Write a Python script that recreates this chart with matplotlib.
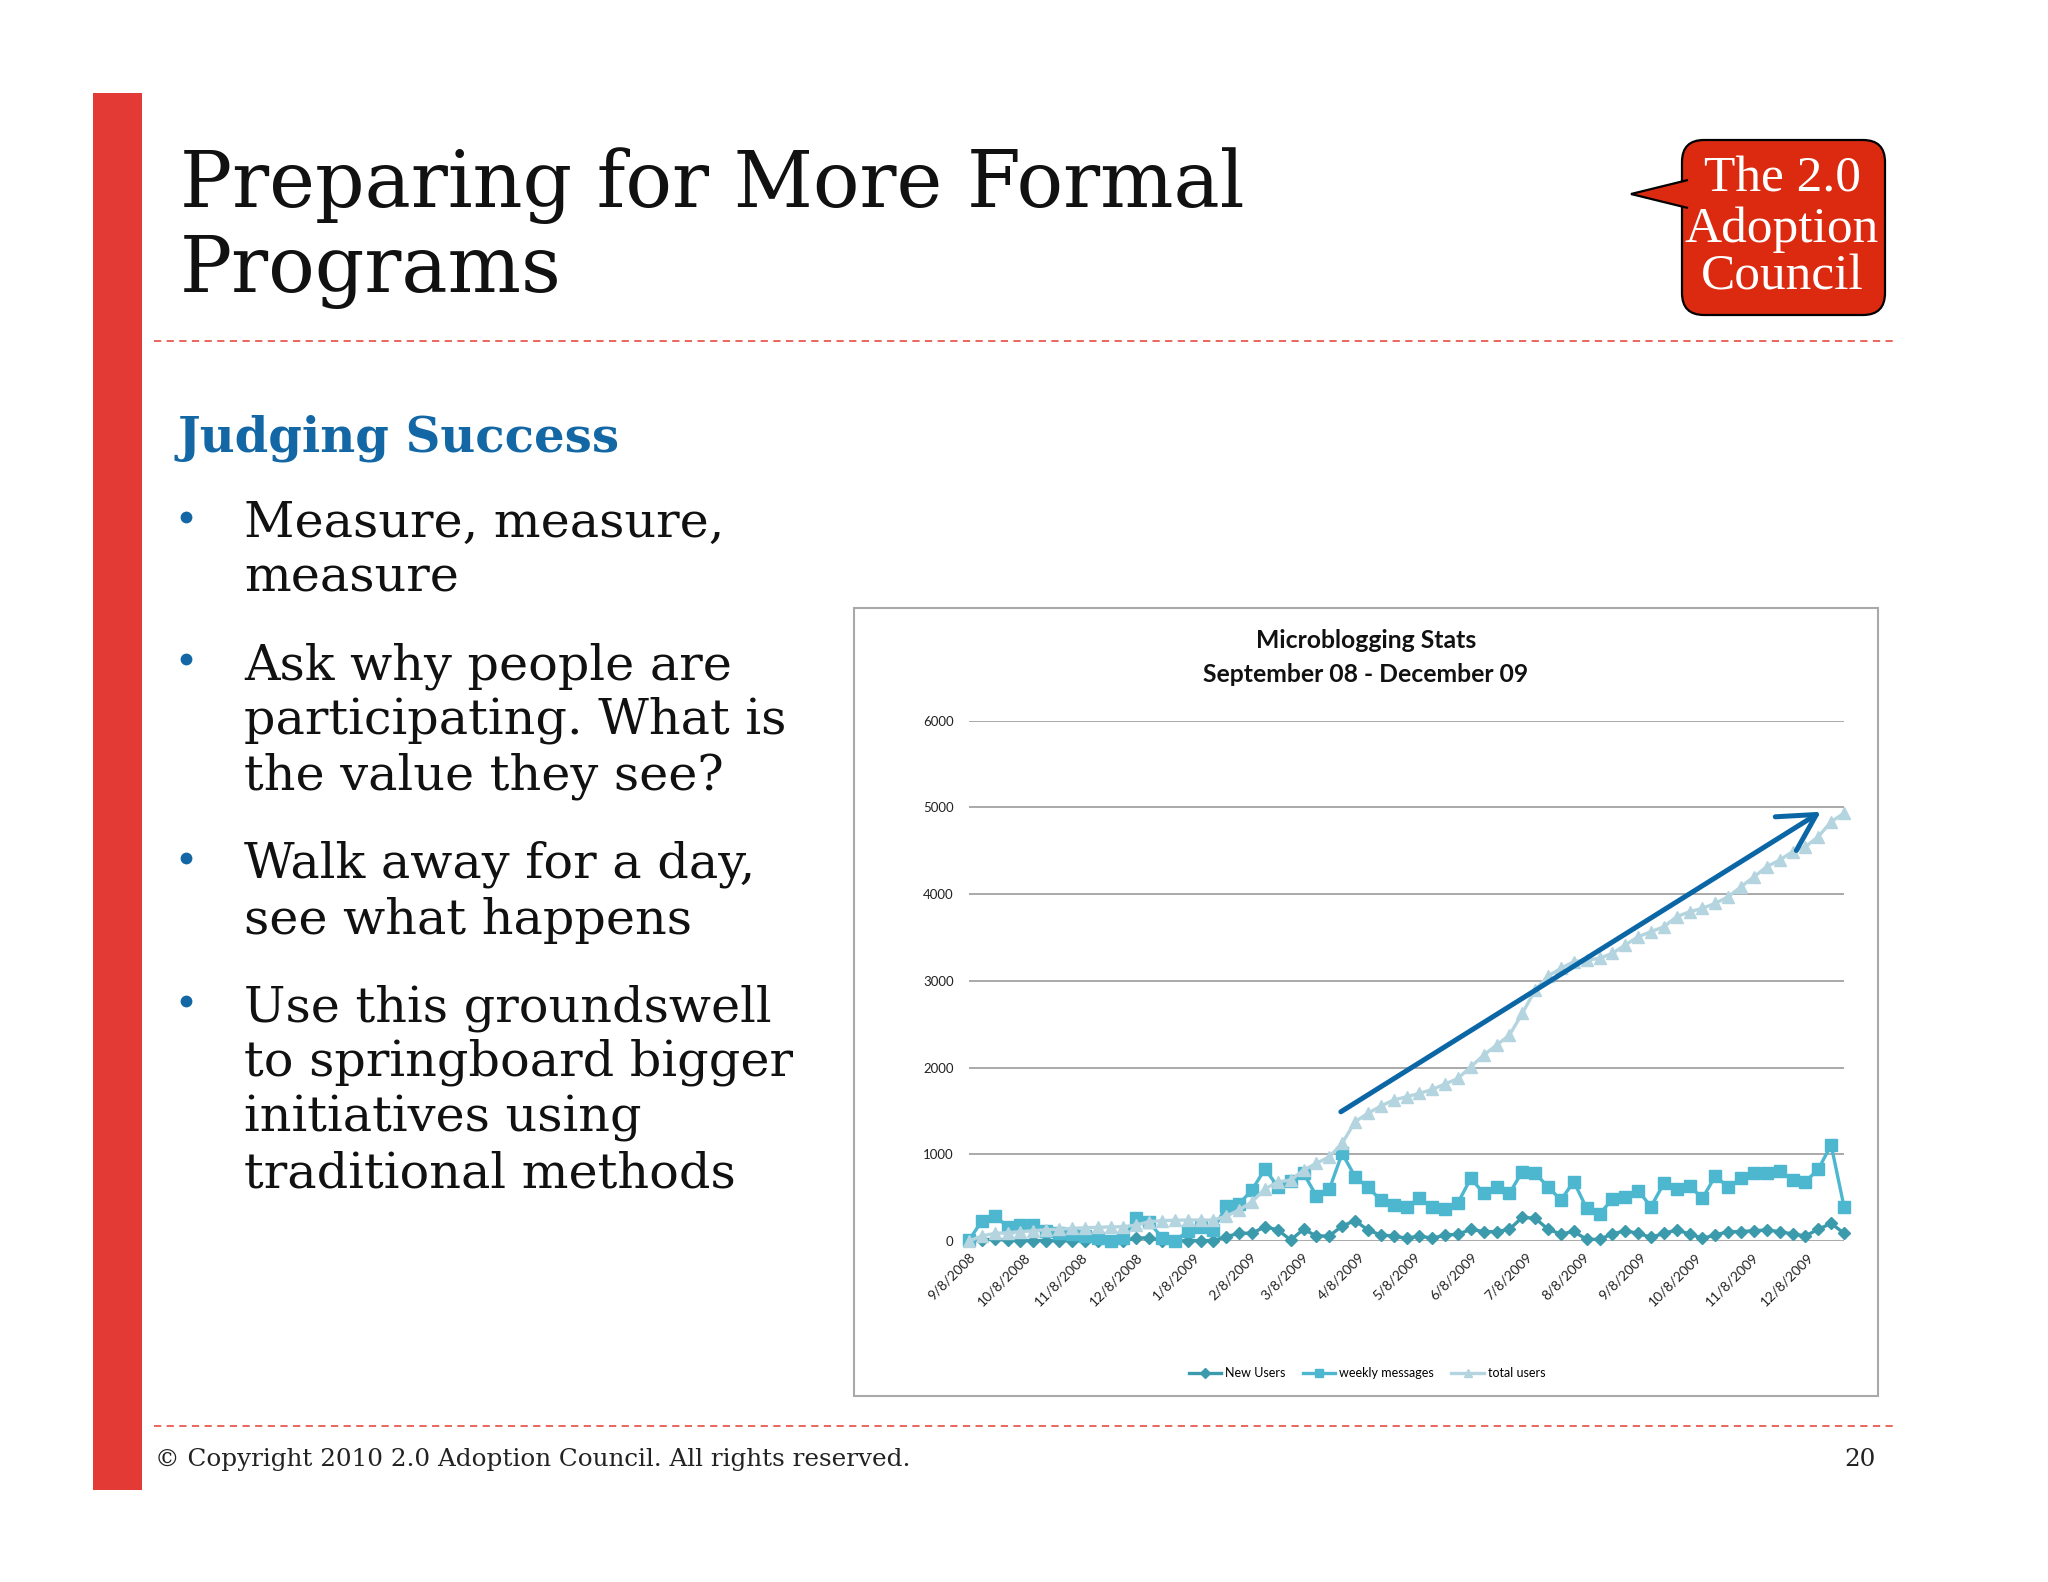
import matplotlib
matplotlib.use('Agg')
import matplotlib.pyplot as plt
import matplotlib.dates as mdates
from matplotlib.patches import Rectangle, FancyBboxPatch, Polygon
import pandas as pd

W, H = 2048, 1582

# ---------------- data ----------------
weeks = pd.date_range('2008-09-08', periods=69, freq='7D')

new_users = [0, 15, 20, 10, 5, 5, 5, 5, 5, 5, 5, 0, 5, 30, 40, 0, 0, 5, 5, 5,
             50, 90, 90, 165, 127, 12, 135, 58, 58, 173, 235, 127, 69, 58, 31,
             58, 31, 69, 77, 135, 108, 108, 135, 273, 262, 135, 80, 110, 19, 19,
             81, 119, 88, 42, 88, 127, 81, 31, 69, 108, 108, 119, 127, 108, 81,
             58, 135, 204, 88]

weekly_messages = [10, 230, 290, 165, 185, 180, 120, 90, 75, 55, 40, 5, 40, 262,
                   215, 40, 5, 110, 160, 130, 405, 430, 590, 830, 627, 690, 780,
                   520, 596, 1011, 742, 619, 473, 415, 396, 492, 388, 365, 442,
                   723, 550, 619, 550, 800, 780, 625, 473, 685, 377, 312, 481,
                   512, 581, 396, 665, 596, 635, 492, 750, 619, 723, 788, 780,
                   811, 704, 685, 827, 1108, 396]

total_users = [0, 58, 88, 96, 108, 119, 130, 135, 146, 152, 158, 162, 165, 185,
               223, 235, 240, 242, 242, 242, 288, 358, 454, 600, 683, 702, 818,
               895, 971, 1126, 1375, 1472, 1556, 1625, 1663, 1702, 1748, 1810,
               1875, 2009, 2144, 2259, 2375, 2625, 2894, 3055, 3144, 3221, 3240,
               3260, 3317, 3413, 3509, 3567, 3624, 3740, 3797, 3836, 3894, 3970,
               4085, 4200, 4316, 4393, 4489, 4547, 4662, 4835, 4932]

tick_labels = ['9/8/2008', '10/8/2008', '11/8/2008', '12/8/2008', '1/8/2009',
               '2/8/2009', '3/8/2009', '4/8/2009', '5/8/2009', '6/8/2009',
               '7/8/2009', '8/8/2009', '9/8/2009', '10/8/2009', '11/8/2009',
               '12/8/2009']
y_ticks = [0, 1000, 2000, 3000, 4000, 5000, 6000]

series_names = ['New Users', 'weekly messages', 'total users']

bullets = [
    ['Measure, measure,', 'measure'],
    ['Ask why people are', 'participating. What is', 'the value they see?'],
    ['Walk away for a day,', 'see what happens'],
    ['Use this groundswell', 'to springboard bigger', 'initiatives using',
     'traditional methods'],
]

# trend arrow (in week index / value units)
arrow_start = (28.9, 1490)
arrow_end = (66.2, 4950)

# ---------------- figure ----------------
fig = plt.figure(figsize=(W / 100, H / 100), dpi=100)
fig.patch.set_facecolor('white')

bg = fig.add_axes([0, 0, 1, 1], zorder=0)
bg.set_xlim(0, W)
bg.set_ylim(H, 0)
bg.axis('off')

RED = '#e43a36'
BLUE = '#1467a5'
SERIF = 'DejaVu Serif'

# red vertical bar
bg.add_patch(Rectangle((93, 93), 49, 1397, color=RED, lw=0))

# dashed separators
for yy in (341, 1426):
    bg.plot([154, 1893], [yy, yy], color='#e85a52', lw=1.3, dashes=(4, 3))

# title
bg.text(180, 207, 'Preparing for More Formal', fontsize=55.8, family=SERIF,
        va='baseline', ha='left', color='#111111')
bg.text(180, 292, 'Programs', fontsize=55.8, family=SERIF,
        va='baseline', ha='left', color='#111111')

# subtitle
bg.text(177, 452, 'Judging Success', fontsize=34.7, family=SERIF,
        fontweight='bold', color=BLUE, va='baseline', ha='left')

# bullet list
baselines = [[537, 592], [679, 734, 789], [878, 934], [1021, 1076, 1132, 1188]]
for lines, bls in zip(bullets, baselines):
    bg.plot([186], [bls[0] - 20], 'o', ms=8.5, color=BLUE, mec='none')
    for ln, bl in zip(lines, bls):
        bg.text(244, bl, ln, fontsize=35.5, family=SERIF, va='baseline',
                ha='left', color='#111111')

# footer
bg.text(155, 1466, '\u00a9 Copyright 2010 2.0 Adoption Council. All rights reserved.',
        fontsize=17.7, family=SERIF, va='baseline', ha='left', color='#222222')
bg.text(1876, 1466, '20', fontsize=17.7, family=SERIF, va='baseline',
        ha='right', color='#222222')

# logo (speech bubble)
LOGO_RED = '#dc2a10'
bg.add_patch(FancyBboxPatch((1682, 140), 203, 175,
                            boxstyle='round,pad=0,rounding_size=22',
                            fc=LOGO_RED, ec='black', lw=1.6, zorder=2))
bg.add_patch(Polygon([(1688, 180), (1631, 194), (1688, 208)], closed=False,
                     fc=LOGO_RED, ec='black', lw=1.6, zorder=3))
for txt, bl in zip(['The 2.0', 'Adoption', 'Council'], [192, 242, 290]):
    bg.text(1782, bl, txt, fontsize=37, family='Liberation Serif',
            color='white', ha='center', va='baseline', zorder=4)

# chart frame
bg.add_patch(Rectangle((854, 608), 1024, 788, fill=False, ec='#a9a9a9', lw=1.5))

# chart titles
CH_FONT = 'Lato'
bg.text(1366, 640, 'Microblogging Stats', fontsize=17.8, family=CH_FONT,
        fontweight='bold', ha='center', va='center', color='#111111')
bg.text(1366, 675, 'September 08 - December 09', fontsize=17.8, family=CH_FONT,
        fontweight='bold', ha='center', va='center', color='#111111')

# ---------------- chart axes ----------------
ax = fig.add_axes([969 / W, 1 - 1241 / H, (1844 - 969) / W, (1241 - 720.7) / H],
                  zorder=2)
ax.patch.set_alpha(0)

C_NEW = '#3b9bad'
C_MSG = '#4cb7cf'
C_TOT = '#b4d5df'

ax.plot(weeks, new_users, color=C_NEW, lw=2.4, marker='D', ms=6.5,
        label=series_names[0], clip_on=False, zorder=3)
ax.plot(weeks, weekly_messages, color=C_MSG, lw=2.4, marker='s', ms=8,
        label=series_names[1], clip_on=False, zorder=4)
ax.plot(weeks, total_users, color=C_TOT, lw=2.4, marker='^', ms=8,
        label=series_names[2], clip_on=False, zorder=5)

ax.set_xlim(weeks[0], weeks[-1])
ax.set_ylim(0, 6000)
ax.set_yticks(y_ticks)
ax.set_yticklabels([str(v) for v in y_ticks], fontsize=9.5, family=CH_FONT,
                   color='#222222')
tick_dates = pd.to_datetime(tick_labels, format='%m/%d/%Y')
ax.set_xticks(mdates.date2num(tick_dates))
ax.set_xticklabels(tick_labels, rotation=45, ha='right', va='top',
                   rotation_mode='anchor', fontsize=10, family=CH_FONT,
                   color='#222222')
ax.tick_params(axis='both', length=0)
ax.tick_params(axis='y', pad=11)
ax.tick_params(axis='x', pad=7)
ax.grid(axis='y', color='#a3a3a3', lw=1.3, zorder=1)
ax.set_axisbelow(True)
for s in ax.spines.values():
    s.set_visible(False)

# trend arrow
x0 = mdates.date2num(weeks[0] + pd.Timedelta(weeks=arrow_start[0]))
x1 = mdates.date2num(weeks[0] + pd.Timedelta(weeks=arrow_end[0]))
ax.annotate('', xy=(x1, arrow_end[1]), xytext=(x0, arrow_start[1]),
            arrowprops=dict(arrowstyle='->,head_length=1.0,head_width=0.55',
                            mutation_scale=26, lw=3.6, color='#0b66a5',
                            shrinkA=0, shrinkB=0), zorder=10)

leg = ax.legend(loc='center', bbox_to_anchor=(1367 / W, 1 - 1373 / H),
                bbox_transform=fig.transFigure, ncol=3, frameon=False,
                prop={'family': CH_FONT, 'size': 9}, handlelength=2.6,
                columnspacing=1.4, handletextpad=0.3, markerscale=0.8)

fig.savefig('out.png', dpi=100, facecolor='white')
